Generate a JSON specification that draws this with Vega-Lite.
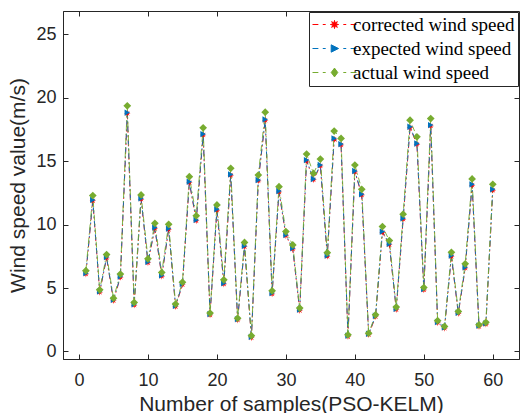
{
  "$schema": "https://vega.github.io/schema/vega-lite/v6.json",
  "autosize": "none",
  "width": 456,
  "height": 348,
  "padding": {"left": 63, "top": 11, "right": 1, "bottom": 54},
  "background": "white",
  "data": {"values": [
    {"n":1,"corrected":6.10,"expected":6.17,"actual":6.37},
    {"n":2,"corrected":11.88,"expected":11.95,"actual":12.29},
    {"n":3,"corrected":4.66,"expected":4.73,"actual":4.86},
    {"n":4,"corrected":7.37,"expected":7.44,"actual":7.64},
    {"n":5,"corrected":4.00,"expected":4.07,"actual":4.20},
    {"n":6,"corrected":5.84,"expected":5.91,"actual":6.10},
    {"n":7,"corrected":18.77,"expected":18.84,"actual":19.37},
    {"n":8,"corrected":3.64,"expected":3.71,"actual":3.86},
    {"n":9,"corrected":12.01,"expected":12.08,"actual":12.34},
    {"n":10,"corrected":6.99,"expected":7.06,"actual":7.30},
    {"n":11,"corrected":9.70,"expected":9.77,"actual":10.10},
    {"n":12,"corrected":5.92,"expected":5.99,"actual":6.23},
    {"n":13,"corrected":9.62,"expected":9.69,"actual":10.02},
    {"n":14,"corrected":3.53,"expected":3.60,"actual":3.73},
    {"n":15,"corrected":5.26,"expected":5.33,"actual":5.46},
    {"n":16,"corrected":13.32,"expected":13.39,"actual":13.78},
    {"n":17,"corrected":10.30,"expected":10.37,"actual":10.69},
    {"n":18,"corrected":17.07,"expected":17.14,"actual":17.64},
    {"n":19,"corrected":2.87,"expected":2.94,"actual":3.02},
    {"n":20,"corrected":11.14,"expected":11.21,"actual":11.55},
    {"n":21,"corrected":5.31,"expected":5.38,"actual":5.65},
    {"n":22,"corrected":13.89,"expected":13.96,"actual":14.44},
    {"n":23,"corrected":2.47,"expected":2.54,"actual":2.62},
    {"n":24,"corrected":8.25,"expected":8.32,"actual":8.59},
    {"n":25,"corrected":1.07,"expected":1.14,"actual":1.24},
    {"n":26,"corrected":13.45,"expected":13.52,"actual":13.91},
    {"n":27,"corrected":18.23,"expected":18.30,"actual":18.87},
    {"n":28,"corrected":4.53,"expected":4.60,"actual":4.78},
    {"n":29,"corrected":12.58,"expected":12.65,"actual":12.99},
    {"n":30,"corrected":9.12,"expected":9.19,"actual":9.45},
    {"n":31,"corrected":8.07,"expected":8.14,"actual":8.40},
    {"n":32,"corrected":3.22,"expected":3.29,"actual":3.42},
    {"n":33,"corrected":15.02,"expected":15.09,"actual":15.57},
    {"n":34,"corrected":13.53,"expected":13.60,"actual":14.04},
    {"n":35,"corrected":14.63,"expected":14.70,"actual":15.17},
    {"n":36,"corrected":7.49,"expected":7.56,"actual":7.79},
    {"n":37,"corrected":16.73,"expected":16.80,"actual":17.38},
    {"n":38,"corrected":16.28,"expected":16.35,"actual":16.80},
    {"n":39,"corrected":1.17,"expected":1.24,"actual":1.31},
    {"n":40,"corrected":14.16,"expected":14.23,"actual":14.70},
    {"n":41,"corrected":12.33,"expected":12.40,"actual":12.78},
    {"n":42,"corrected":1.32,"expected":1.39,"actual":1.44},
    {"n":43,"corrected":2.74,"expected":2.81,"actual":2.89},
    {"n":44,"corrected":9.38,"expected":9.45,"actual":9.85},
    {"n":45,"corrected":8.41,"expected":8.48,"actual":8.74},
    {"n":46,"corrected":3.29,"expected":3.36,"actual":3.50},
    {"n":47,"corrected":10.43,"expected":10.50,"actual":10.82},
    {"n":48,"corrected":17.65,"expected":17.72,"actual":18.24},
    {"n":49,"corrected":16.33,"expected":16.40,"actual":16.93},
    {"n":50,"corrected":4.85,"expected":4.92,"actual":5.04},
    {"n":51,"corrected":17.78,"expected":17.85,"actual":18.37},
    {"n":52,"corrected":2.25,"expected":2.32,"actual":2.42},
    {"n":53,"corrected":1.82,"expected":1.89,"actual":1.97},
    {"n":54,"corrected":7.49,"expected":7.56,"actual":7.82},
    {"n":55,"corrected":2.98,"expected":3.05,"actual":3.15},
    {"n":56,"corrected":6.57,"expected":6.64,"actual":6.91},
    {"n":57,"corrected":13.11,"expected":13.18,"actual":13.60},
    {"n":58,"corrected":1.96,"expected":2.03,"actual":2.10},
    {"n":59,"corrected":2.14,"expected":2.21,"actual":2.29},
    {"n":60,"corrected":12.71,"expected":12.78,"actual":13.18}
  ]},
  "transform": [
    {"fold": ["corrected", "expected", "actual"], "as": ["key", "v"]},
    {"lookup": "key", "from": {"data": {"values": [
      {"key": "corrected", "series": "corrected wind speed"},
      {"key": "expected", "series": "expected wind speed"},
      {"key": "actual", "series": "actual wind speed"}
    ]}, "key": "key", "fields": ["series"]}}
  ],
  "encoding": {
    "x": {"field": "n", "type": "quantitative", "scale": {"domain": [-2.32, 63.8], "nice": false, "zero": false}},
    "y": {"field": "v", "type": "quantitative", "scale": {"domain": [-0.6, 26.85], "nice": false, "zero": false}}
  },
  "layer": [
    {
      "mark": {"type": "line", "strokeWidth": 0.9, "strokeDash": [6, 3, 1.5, 3]},
      "encoding": {
        "x": {"field": "n", "type": "quantitative", "axis": {"orient": "bottom", "title": "Number of samples(PSO-KELM)", "values": [0,10,20,30,40,50,60], "tickSize": -5, "labelPadding": 17, "titlePadding": 4}},
        "y": {"field": "v", "type": "quantitative", "axis": {"orient": "left", "title": "Wind speed value(m/s)", "values": [0,5,10,15,20,25], "tickSize": -5, "labelPadding": 12, "titlePadding": 7}},
        "color": {"field": "series", "type": "nominal",
          "scale": {"domain": ["corrected wind speed", "expected wind speed", "actual wind speed"], "range": ["#FF0000", "#0072BD", "#77AC30"]},
          "legend": {
            "title": null, "orient": "top-right", "offset": 1,
            "fillColor": "white", "strokeColor": "#262626", "padding": 3,
            "labelFont": "Liberation Serif", "labelFontSize": 19, "labelColor": "#000000", "labelLimit": 400,
            "symbolSize": 215, "symbolOffset": 13, "labelOffset": 9, "rowPadding": 4,
            "symbolStrokeWidth": 1, "symbolType": "circle",
            "encode": {"symbols": {"update": {
              "shape": {"signal": "datum.value === 'corrected wind speed' ? 'M-3,0H-2.2M-1.6,0H-1.2M1.2,0H1.6M2.2,0H3M0.55,0L0.2,0.085L0.39,0.39L0.085,0.2L0,0.55L-0.085,0.2L-0.39,0.39L-0.2,0.085L-0.55,0L-0.2,-0.085L-0.39,-0.39L-0.085,-0.2L0,-0.55L0.085,-0.2L0.39,-0.39L0.2,-0.085Z' : datum.value === 'expected wind speed' ? 'M-3,0H-2.2M-1.6,0H-1.2M1.2,0H1.6M2.2,0H3M-0.45,-0.5L0.55,0L-0.45,0.5Z' : 'M-3,0H-2.2M-1.6,0H-1.2M1.2,0H1.6M2.2,0H3M0,-0.6L0.45,0L0,0.6L-0.45,0Z'"},
              "fill": {"scale": "color", "field": "value"},
              "stroke": {"scale": "color", "field": "value"},
              "strokeWidth": {"value": 1},
              "strokeDash": {"value": []},
              "opacity": {"value": 1}
            }}}
          }},
        "detail": {"field": "series"}
      }
    },
    {
      "transform": [{"filter": "datum.key === 'corrected'"}],
      "mark": {"type": "point", "filled": true, "opacity": 1, "size": 45, "color": "#FF0000",
        "shape": "M1,0L0.37,0.153L0.707,0.707L0.153,0.37L0,1L-0.153,0.37L-0.707,0.707L-0.37,0.153L-1,0L-0.37,-0.153L-0.707,-0.707L-0.153,-0.37L0,-1L0.153,-0.37L0.707,-0.707L0.37,-0.153Z"},
      "encoding": {
        "x": {"field": "n", "type": "quantitative", "axis": null},
        "y": {"field": "v", "type": "quantitative", "axis": null}
      }
    },
    {
      "transform": [{"filter": "datum.key === 'expected'"}],
      "mark": {"type": "point", "filled": true, "opacity": 1, "size": 40, "color": "#0072BD", "shape": "triangle-right"},
      "encoding": {
        "x": {"field": "n", "type": "quantitative", "axis": null},
        "y": {"field": "v", "type": "quantitative", "axis": null}
      }
    },
    {
      "transform": [{"filter": "datum.key === 'actual'"}],
      "mark": {"type": "point", "filled": true, "opacity": 1, "size": 60, "color": "#77AC30", "shape": "diamond"},
      "encoding": {
        "x": {"field": "n", "type": "quantitative", "axis": null},
        "y": {"field": "v", "type": "quantitative", "axis": null}
      }
    },
    {
      "mark": {"type": "point", "opacity": 0},
      "encoding": {
        "x": {"field": "n", "type": "quantitative", "axis": {"orient": "top", "title": null, "labels": false, "domain": false, "values": [0,10,20,30,40,50,60], "tickSize": -5}},
        "y": {"field": "v", "type": "quantitative", "axis": {"orient": "right", "title": null, "labels": false, "domain": false, "values": [0,5,10,15,20,25], "tickSize": -5}}
      }
    }
  ],
  "resolve": {"axis": {"x": "independent", "y": "independent"}},
  "config": {
    "view": {"stroke": "#262626", "strokeWidth": 1},
    "axis": {
      "grid": false, "domainColor": "#262626", "tickColor": "#262626", "labelColor": "#262626", "titleColor": "#262626",
      "labelFont": "Liberation Sans", "labelFontSize": 18, "titleFont": "Liberation Sans", "titleFontSize": 21, "titleFontWeight": "normal"
    }
  }
}
